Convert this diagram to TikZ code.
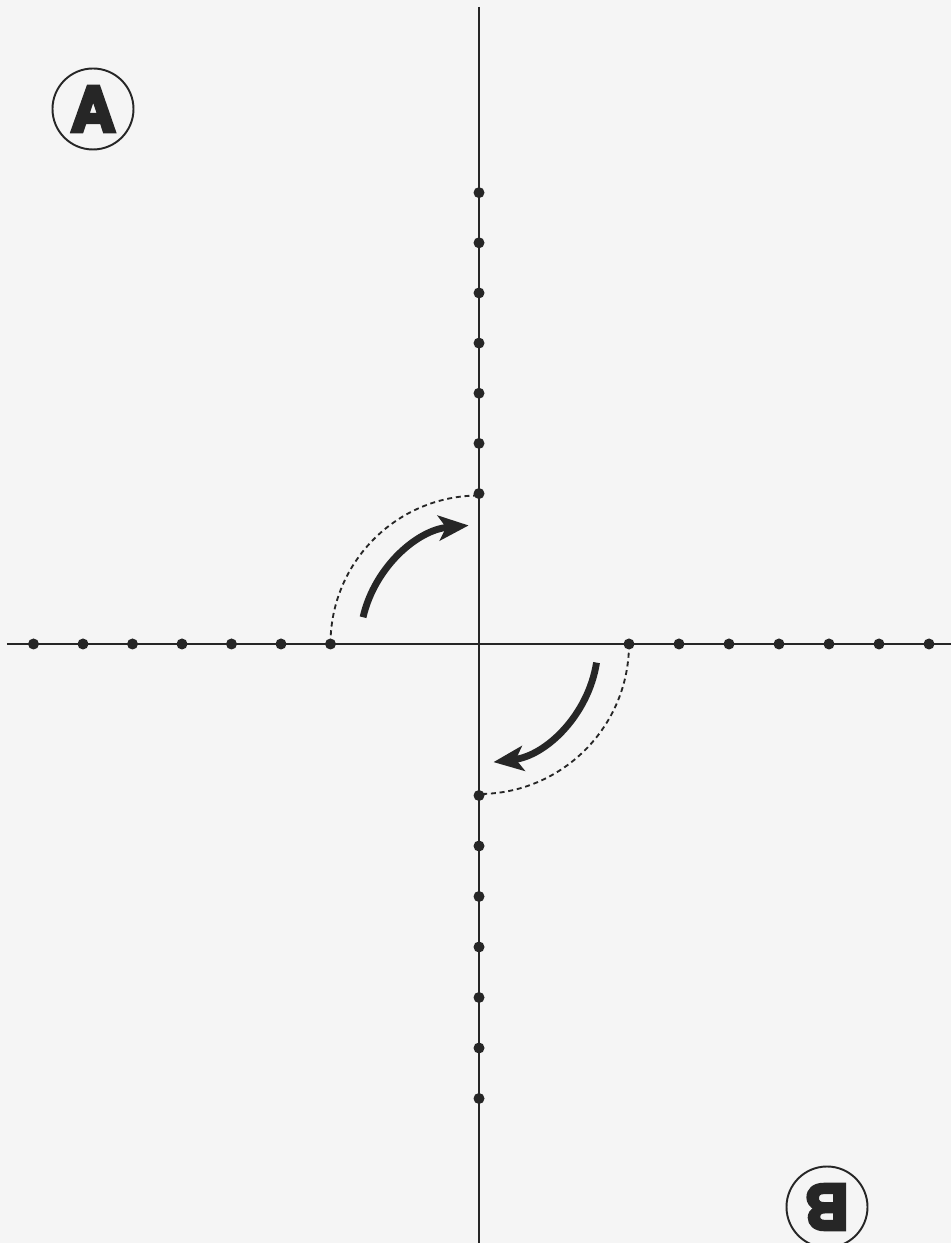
\documentclass[tikz,border=0pt]{standalone}
\usepackage{fontspec}
\newfontfamily\labfont[FakeBold=6]{TeX Gyre Heros}
\usetikzlibrary{arrows.meta}
\tikzset{
  axis/.style={line width=1.1pt,black!85},
  dot/.style={circle,fill=black!85,inner sep=0pt,minimum size=0.22cm},
  pathguide/.style={line width=1.05pt,black!85,dash pattern=on 0.1cm off 0.075cm},
  turn/.style={line width=3.9pt,black!85,-{Stealth[length=6mm,width=5mm,inset=1.5mm]}},
  badge/.style={circle,draw,line width=1.1pt,black!85,minimum size=1.62cm,inner sep=0pt,
               font=\labfont\bfseries\fontsize{35}{35}\selectfont},
}
\begin{document}
\begin{tikzpicture}
  \useasboundingbox[fill=black!4] (-9.58,-11.98) rectangle (9.44,12.88);
  % --- axes ---
  \coordinate (top) at (0,12.74);
  \coordinate (bot) at (0,-11.98);
  \coordinate (lft) at (-9.44,0);
  \coordinate (rgt) at (9.44,0);
  \draw[axis] (top) -- (bot);
  \draw[axis] (lft) -- (rgt);
  % --- dots on the four half axes ---
  \foreach \i in {3,...,9} {
    \node[dot] (u\i) at (0,1.003*\i) {};
    \node[dot] (d\i) at (0,-1.01*\i) {};
    \node[dot] (l\i) at (-0.99*\i,0) {};
    \node[dot] (r\i) at (\i,0) {};
  }
  % --- quarter turns ---
  \draw[pathguide] (l3.center) arc (180:90:2.97);
  \draw[pathguide] (r3.center) arc (0:-90:3);
  \draw[turn] (167:2.38) arc (167:95:2.38);
  \draw[turn] (-9:2.38) arc (-9:-83:2.38);
  % --- corner labels ---
  \node[badge] (labA) at (-7.72,10.7) {A};
  \node[badge,rotate=180] (labB) at (6.96,-11.26) {B};
\end{tikzpicture}
\end{document}
